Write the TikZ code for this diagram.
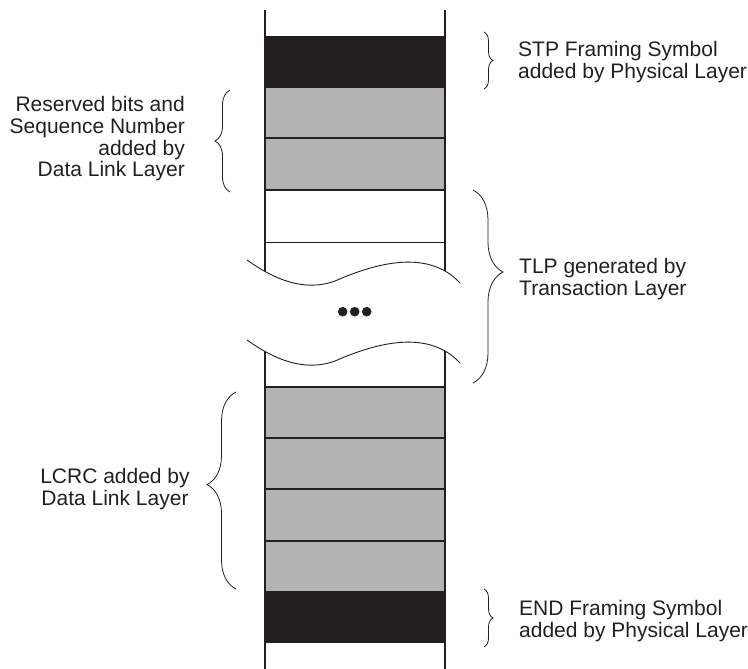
\documentclass[tikz,border=0pt]{standalone}
\usepackage{fontspec}
\setmainfont{Liberation Sans}
\usetikzlibrary{decorations.pathreplacing}
\definecolor{ink}{HTML}{231F20}
\definecolor{fillgray}{HTML}{B3B3B3}
\begin{document}
\begin{tikzpicture}[x=1pt,y=-1pt,
  lbl/.style={font=\fontsize{21}{21.7}\selectfont, inner sep=0pt, text=ink},
  brc/.style={draw=ink, line width=0.8pt, decorate, decoration={brace, amplitude=#1}},
  cell/.style={rectangle, minimum width=180pt, minimum height=#1, inner sep=0pt, anchor=north west},
  rail/.style={draw=ink, line width=1.3pt},
  sepline/.style={draw=ink, line width=1.4pt},
  wave/.style={draw=ink, line width=0.9pt}]
\useasboundingbox (0,0) rectangle (748,669);
% frame blocks
\node[cell=52pt, fill=ink] (stp) at (265,36) {};
\node[cell=50pt, fill=fillgray] (r1) at (265,88) {};
\node[cell=52pt, fill=fillgray] (r2) at (265,138) {};
\node[cell=52pt, fill=white] (t1) at (265,190) {};
\node[cell=51pt, fill=fillgray] (l1) at (265,387) {};
\node[cell=51pt, fill=fillgray] (l2) at (265,438) {};
\node[cell=52pt, fill=fillgray] (l3) at (265,489) {};
\node[cell=50pt, fill=fillgray] (l4) at (265,541) {};
\node[cell=52pt, fill=ink] (endb) at (265,591) {};
% separators
\foreach \c in {r2,t1,l1,l2,l3,l4}
  \draw[sepline] (\c.north west) -- (\c.north east);
\draw[sepline] (t1.south west) -- (t1.south east);
% rails
\coordinate (lt) at (265,10); \coordinate (lb) at (265,669);
\coordinate (rt) at (445,10); \coordinate (rb) at (445,669);
\draw[rail] (lt) -- (lb);
\draw[rail] (rt) -- (rb);
% break
\fill[white] (247,260) .. controls (275,280) and (305,292) .. (335,281)
  .. controls (365,268) and (425,245) .. (460,283)
  -- (460,363) .. controls (425,325) and (365,348) .. (335,361)
  .. controls (305,372) and (275,360) .. (247,340) -- cycle;
\draw[wave] (247,260) .. controls (275,280) and (305,292) .. (335,281)
  .. controls (365,268) and (425,245) .. (460,283);
\draw[wave] (247,340) .. controls (275,360) and (305,372) .. (335,361)
  .. controls (365,348) and (425,325) .. (460,363);
\fill[ink] (342.7,311.7) circle (4.8) (354.7,311.7) circle (4.8) (366.7,311.7) circle (4.8);
% braces
\draw[brc=9pt] (484,32) -- (484,89);
\draw[brc=15pt] (230,192) -- (230,90);
\draw[brc=30pt, decoration={aspect=0.425}] (473,190) -- (473,383);
\draw[brc=29pt, decoration={aspect=0.53}] (236,589) -- (236,392);
\draw[brc=9pt] (484,589) -- (484,647);
% labels (base anchor = baseline of last line)
\node[lbl, anchor=base west, align=left] (stpl) at (518,78.3) {STP Framing Symbol\\added by Physical Layer};
\node[lbl, anchor=base east, align=right] (resl) at (185,176.7) {Reserved bits and\\Sequence Number\\added by\\Data Link Layer};
\node[lbl, anchor=base west, align=left] (tlpl) at (519,295) {TLP generated by\\Transaction Layer};
\node[lbl, anchor=base, align=center] (lcrcl) at (115,505) {LCRC added by\\Data Link Layer};
\node[lbl, anchor=base west, align=left] (endl) at (519,637.3) {END Framing Symbol\\added by Physical Layer};
\end{tikzpicture}
\end{document}
